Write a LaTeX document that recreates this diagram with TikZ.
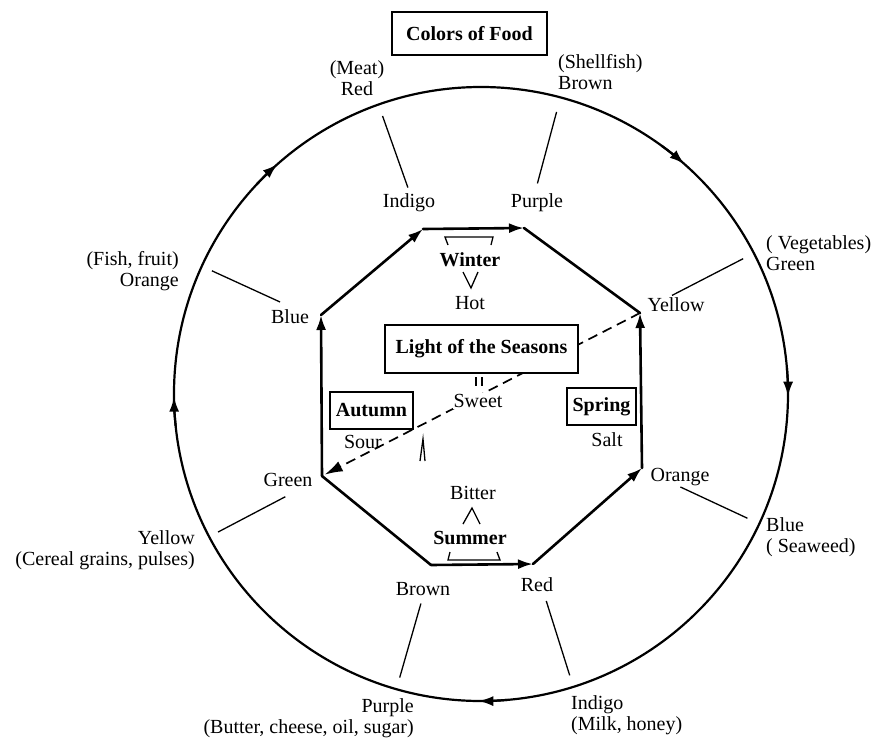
\documentclass[tikz,border=0pt]{standalone}
\usepackage{fontspec}
\setmainfont{Liberation Serif}
\usepackage{tikz}
\usetikzlibrary{arrows.meta}

\begin{document}
\begin{tikzpicture}[
  x=1pt, y=1pt,
  txt/.style={font=\fontsize{20}{21}\selectfont, inner sep=1pt, align=center},
  seas/.style={txt, font=\fontsize{20}{21}\selectfont\bfseries},
  box/.style={rectangle, draw, line width=1.6pt, fill=white, inner sep=0pt,
              font=\fontsize{20}{21}\selectfont\bfseries},
  ring/.style={line width=2.2pt},
  oct/.style={line width=2.6pt, line cap=round},
  arr/.style={-{Latex[length=15pt, width=10pt]}},
  spoke/.style={line width=1.3pt},
  brk/.style={line width=1.3pt},
  dashline/.style={line width=1.7pt, dash pattern=on 10pt off 6pt,
                   -{Latex[length=18pt, width=11pt]}}
]
\useasboundingbox (-481,-351) rectangle (393,394);

% Colors of Food
\node[box, minimum width=155pt, minimum height=43pt] (food) at (-11.5,360.5) {Colors of Food};
\draw[ring] (0,0) circle[radius=307pt];
\draw[ring, arr] (137:307) arc[start angle=137, end angle=131.5, radius=307pt];
\draw[ring, arr] (54:307) arc[start angle=54, end angle=48.5, radius=307pt];
\draw[ring, arr] (5:307) arc[start angle=5, end angle=-0.5, radius=307pt];
\draw[ring, arr] (-85:307) arc[start angle=-85, end angle=-90.5, radius=307pt];
\draw[ring, arr] (-174:307) arc[start angle=-174, end angle=-179.5, radius=307pt];

% octagon
\coordinate (vIndigo) at (-58,165);
\coordinate (vPurple) at (43,166);
\coordinate (vYellow) at (159,81);
\coordinate (vOrange) at (161,-74);
\coordinate (vRed) at (52,-170);
\coordinate (vBrown) at (-50,-171);
\coordinate (vGreen) at (-159,-82);
\coordinate (vBlue) at (-160,79);

\draw[dashline, shorten >=3pt] (vYellow) -- (vGreen);

\draw[oct] (vPurple) -- (vYellow);
\draw[oct] (vGreen) -- (vBrown);
\draw[oct, arr] (vGreen) -- (vBlue);
\draw[oct, arr] (vBlue) -- (vIndigo);
\draw[oct, arr] (vIndigo) -- (vPurple);
\draw[oct, arr] (vBrown) -- (vRed);
\draw[oct, arr] (vRed) -- (vOrange);
\draw[oct, arr] (vOrange) -- (vYellow);

\node[txt] (lIndigo) at (-72,191) {Indigo};
\node[txt] (lPurple) at (56,191) {Purple};
\node[txt] (lYellow) at (195,89) {Yellow};
\node[txt] (lOrange) at (199,-83) {Orange};
\node[txt] (lRed) at (56,-191) {Red};
\node[txt] (lBrown) at (-58,-195) {Brown};
\node[txt] (lGreen) at (-193,-86) {Green};
\node[txt] (lBlue) at (-191,77) {Blue};

% spokes to the food colours
\coordinate (i1) at (109.5:219); \coordinate (o1) at (109.5:295);
\coordinate (i2) at (75:218);    \coordinate (o2) at (75:292);
\coordinate (i3) at (27.3:215);  \coordinate (o3) at (27.3:295);
\coordinate (i4) at (-25:220);   \coordinate (o4) at (-25:294);
\coordinate (i5) at (-72.5:217); \coordinate (o5) at (-72.5:295);
\coordinate (i6) at (-106:218);  \coordinate (o6) at (-106:295);
\coordinate (i7) at (-152.3:221);\coordinate (o7) at (-152.3:297);
\coordinate (i8) at (155.4:221); \coordinate (o8) at (155.4:296);
\draw[spoke] (i1) -- (o1);
\draw[spoke] (i2) -- (o2);
\draw[spoke] (i3) -- (o3);
\draw[spoke] (i4) -- (o4);
\draw[spoke] (i5) -- (o5);
\draw[spoke] (i6) -- (o6);
\draw[spoke] (i7) -- (o7);
\draw[spoke] (i8) -- (o8);

\node[txt] (fMeat) at (-124,316) {(Meat)\\Red};
\node[txt, anchor=west, align=left] (fShell) at (76,322) {(Shellfish)\\Brown};
\node[txt, anchor=west, align=left] (fVeg) at (284,140.5) {( Vegetables)\\Green};
\node[txt, anchor=west, align=left] (fSea) at (284,-143.5) {Blue\\( Seaweed)};
\node[txt, anchor=west, align=left] (fMilk) at (89,-321) {Indigo\\(Milk, honey)};
\node[txt, anchor=east, align=right] (fButter) at (-66,-324) {Purple\\(Butter, cheese, oil, sugar)};
\node[txt, anchor=east, align=right] (fCereal) at (-285,-156) {Yellow\\(Cereal grains, pulses)};
\node[txt, anchor=east, align=right] (fFish) at (-301,122.5) {(Fish, fruit)\\Orange};

% seasons
\node[box, minimum width=193pt, minimum height=48pt] (light) at (0.5,45) {Light of the Seasons};
\node[box, minimum width=83pt, minimum height=37pt] (autumn) at (-109.5,-16.5) {Autumn};
\node[box, minimum width=69pt, minimum height=37pt] (spring) at (120.5,-12.5) {Spring};
\node[txt] (sour) at (-118,-48) {Sour};
\node[txt] (salt) at (126,-46) {Salt};
\node[txt, fill=white] (sweet) at (-3,-7) {Sweet};
\node[seas] (winter) at (-11,134) {Winter};
\node[txt] (hot) at (-11,91) {Hot};
\node[txt] (bitter) at (-8,-99) {Bitter};
\node[seas] (summer) at (-11,-144) {Summer};

\draw[brk] (-33,149) -- (-36,157) -- (12,157) -- (10,149);
\draw[brk] (-18,122) -- (-10,106) -- (-3,122);
\draw[brk] (-18,-130) -- (-9,-114) -- (-1,-130);
\draw[brk] (-31,-158) -- (-33,-166) -- (19,-166) -- (16,-158);
\draw[brk] (-5,17) -- (-5,8);
\draw[brk] (1,17) -- (1,8);
\draw[brk] (-61,-67) -- (-58,-45) -- (-56,-67);

\end{tikzpicture}
\end{document}
